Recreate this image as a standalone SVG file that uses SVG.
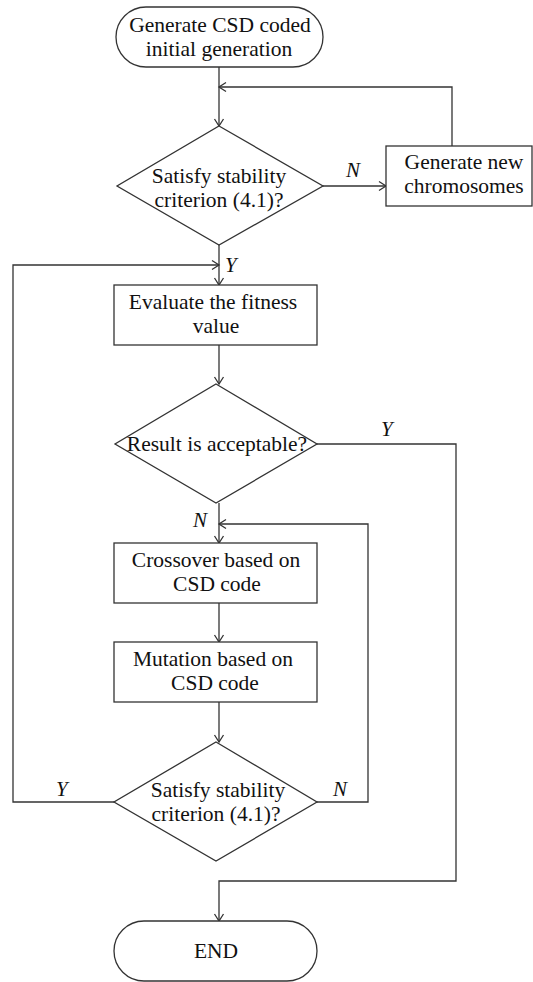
<svg xmlns="http://www.w3.org/2000/svg" width="533" height="982" viewBox="0 0 533 982">
<defs>
<marker id="ah" markerWidth="12" markerHeight="12" refX="0" refY="0" viewBox="-10 -6 12 12" orient="auto" markerUnits="userSpaceOnUse">
<path d="M-7,-4.5 L0,0 L-7,4.5" fill="none" stroke="#333" stroke-width="1.3"/>
</marker>
<style>
.s{fill:#fff;stroke:#333;stroke-width:1.3}
.c{fill:none;stroke:#333;stroke-width:1.3}
.t{font-family:"Liberation Serif","Times New Roman",serif;font-size:21.5px;fill:#111;text-anchor:middle}
.l{font-family:"Liberation Serif","Times New Roman",serif;font-size:21px;font-style:italic;fill:#111}
</style>
</defs>
<g id="connectors">
<path class="c" d="M219,67 V126" marker-end="url(#ah)"/>
<path class="c" d="M452,146 V87 H219" marker-end="url(#ah)"/>
<path class="c" d="M323,186 H386" marker-end="url(#ah)"/>
<path class="c" d="M219,245 V285" marker-end="url(#ah)"/>
<path class="c" d="M114,802 H13 V265 H219" marker-end="url(#ah)"/>
<path class="c" d="M219,345 V384" marker-end="url(#ah)"/>
<path class="c" d="M317,444 H456 V881 H219 V921" marker-end="url(#ah)"/>
<path class="c" d="M219,503 V543" marker-end="url(#ah)"/>
<path class="c" d="M317,802 H368 V524 H219" marker-end="url(#ah)"/>
<path class="c" d="M219,603 V642" marker-end="url(#ah)"/>
<path class="c" d="M219,702 V742" marker-end="url(#ah)"/>
<text class="l" x="346" y="177">N</text>
<text class="l" x="225" y="272">Y</text>
<text class="l" x="381" y="436">Y</text>
<text class="l" x="193" y="527">N</text>
<text class="l" x="56" y="796">Y</text>
<text class="l" x="333" y="796">N</text>
</g>
<g id="start">
<rect class="s" x="116" y="7" width="207" height="60" rx="30" ry="30"/>
<text class="t" x="220" y="32">Generate CSD coded</text>
<text class="t" x="219" y="56">initial generation</text>
</g>
<g id="check1">
<polygon class="s" points="219,126 323,186 219,245 117,186"/>
<text class="t" x="219" y="183">Satisfy stability</text>
<text class="t" x="219" y="207">criterion (4.1)?</text>
</g>
<g id="newchrom">
<rect class="s" x="386" y="146" width="146" height="60"/>
<text class="t" x="464" y="169">Generate new</text>
<text class="t" x="464" y="193">chromosomes</text>
</g>
<g id="evaluate">
<rect class="s" x="114" y="285" width="203" height="60"/>
<text class="t" x="213" y="309">Evaluate the fitness</text>
<text class="t" x="216" y="333">value</text>
</g>
<g id="acceptable">
<polygon class="s" points="216,384 317,444 216,503 115,444"/>
<text class="t" x="217" y="451">Result is acceptable?</text>
</g>
<g id="crossover">
<rect class="s" x="114" y="543" width="203" height="60"/>
<text class="t" x="216" y="567">Crossover based on</text>
<text class="t" x="217" y="591">CSD code</text>
</g>
<g id="mutation">
<rect class="s" x="114" y="642" width="203" height="60"/>
<text class="t" x="213" y="666">Mutation based on</text>
<text class="t" x="215" y="690">CSD code</text>
</g>
<g id="check2">
<polygon class="s" points="216,742 317,802 216,861 114,802"/>
<text class="t" x="218" y="797">Satisfy stability</text>
<text class="t" x="216" y="821">criterion (4.1)?</text>
</g>
<g id="end">
<rect class="s" x="114" y="921" width="203" height="60" rx="30" ry="30"/>
<text class="t" x="216" y="958">END</text>
</g>
</svg>
